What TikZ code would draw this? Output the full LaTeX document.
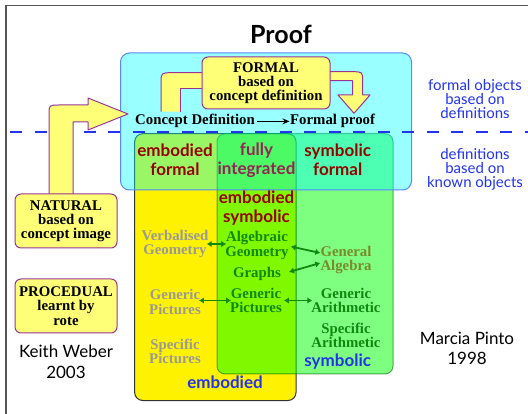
\documentclass[tikz,border=0pt]{standalone}
\usepackage{fontspec}
\setmainfont{Liberation Serif}
\setsansfont{Lato}
\usetikzlibrary{arrows.meta}

\definecolor{bandfill}{HTML}{FFFF77}
\definecolor{bandline}{HTML}{993399}
\definecolor{skyfill}{HTML}{00FFFF}
\definecolor{skyline}{HTML}{5588FF}
\definecolor{labelblue}{HTML}{2233EE}
\definecolor{darkred}{HTML}{990000}
\definecolor{plum}{HTML}{992255}
\definecolor{textgray}{HTML}{999999}
\definecolor{deepgreen}{HTML}{118811}
\definecolor{olivetext}{HTML}{7A8A2A}
\definecolor{framegray}{HTML}{555555}

\tikzset{
  serifbox/.style={draw=bandline, fill=bandfill, line width=1pt, rounded corners=6pt,
    font=\bfseries\fontsize{14.8}{14.2}\selectfont, align=center, inner sep=0pt},
  seriftext/.style={font=\bfseries\fontsize{14.8}{14.2}\selectfont, align=center, inner sep=0pt},
  sanslabel/.style={font=\sffamily\bfseries\fontsize{17}{18.5}\selectfont, align=center, inner sep=0pt},
  bluenote/.style={font=\sffamily\fontsize{15}{14}\selectfont, align=center, inner sep=0pt, text=labelblue},
  author/.style={font=\sffamily\fontsize{17}{20.5}\selectfont, align=center, inner sep=0pt},
  band/.style={fill=bandfill},
  bandedge/.style={draw=bandline, line width=1pt, line join=round},
  garrow/.style={{Latex[length=5pt,width=6.5pt]}-{Latex[length=5pt,width=6.5pt]}, draw=deepgreen, line width=1.8pt}
}

\begin{document}
\begin{tikzpicture}[x=1pt, y=-1pt]
\useasboundingbox (0,0) rectangle (528,414);

% slide frame
\draw[framegray, line width=1.2pt] (6,414) -- (6,5.4) -- (528,5.4);

% embodied and symbolic worlds
\draw[fill=yellow, draw=black!80, line width=1pt, rounded corners=8pt]
  (134.7,133.7) rectangle (296,400.5);
\draw[fill=green, fill opacity=0.5, draw=green!45!black, draw opacity=0.6, line width=1pt, rounded corners=8pt]
  (217,133.7) rectangle (393,374);
% formal world
\draw[fill=skyfill, fill opacity=0.4, draw=skyline, line width=1pt, rounded corners=9pt]
  (120.5,53) rectangle (411.5,190);

% boundary between formal and known objects
\draw[labelblue, line width=2.4pt, dash pattern=on 12pt off 12.5pt] (10,132) -- (528,132);

% broad arrow from the natural route into the concept definition
\path[band] (49,194) -- (49,115) .. controls (49,105) .. (59,105) -- (88,105) -- (88,98)
  -- (128,114) -- (88,130) -- (88,122) -- (73,122) -- (73,194) -- cycle;
\draw[bandedge] (49,194) -- (49,115) .. controls (49,105) .. (59,105) -- (88,105) -- (88,98)
  -- (128,114) -- (88,130) -- (88,122) -- (73,122) -- (73,194);

% broad arrow from the concept definition up into the formal route
\path[band] (161,111.7) -- (161,84) .. controls (161,72.7) .. (172,72.7) -- (205,72.7)
  -- (205,89) -- (180,89) -- (180,111.7) -- cycle;
\draw[bandedge] (161,111.7) -- (161,84) .. controls (161,72.7) .. (172,72.7) -- (205,72.7);
\draw[bandedge] (205,89) -- (180,89) -- (180,111.7);

% broad arrow from the formal route down to the formal proof
\path[band] (326,71.7) -- (352,71.7) .. controls (362.7,71.7) .. (362.7,82) -- (362.7,95)
  -- (370,95) -- (354,113.3) -- (338,95) -- (352.5,95) -- (352.5,80.7) -- (326,80.7) -- cycle;
\draw[bandedge] (326,71.7) -- (352,71.7) .. controls (362.7,71.7) .. (362.7,82) -- (362.7,95)
  -- (370,95) -- (354,113.3) -- (338,95) -- (352.5,95) -- (352.5,80.7) -- (326,80.7);

% the three routes to proof
\node[serifbox, minimum width=128pt, minimum height=52pt] (formal) at (266,83)
  {FORMAL\\based on\\concept definition};
\node[serifbox, minimum width=102pt, minimum height=54pt] (natural) at (66,221)
  {NATURAL\\based on\\concept image};
\node[serifbox, minimum width=102pt, minimum height=54pt] (procedural) at (66,306)
  {PROCEDUAL\\learnt by\\rote};

% title
\node[font=\sffamily\bfseries\fontsize{25}{28}\selectfont, inner sep=0pt] (title) at (281,34) {Proof};

% concept definition leading to formal proof
\node[seriftext, anchor=base west] (cdef) at (135,125) {Concept Definition};
\node[seriftext, anchor=base west] (fproof) at (290,125) {Formal proof};
\draw[-{Stealth[length=7pt,width=6pt]}, line width=1pt] ([xshift=2pt]cdef.east) -- ([xshift=-0.5pt]fproof.west);

% notes on the right
\node[bluenote] (fobj) at (475,99.5) {formal objects\\based on\\definitions};
\node[bluenote] (kobj) at (475,169) {definitions\\based on\\known objects};

% world labels
\node[sanslabel, text=darkred] (ef) at (175,160) {embodied\\formal};
\node[sanslabel, text=plum] (fi) at (256.5,160) {fully\\integrated};
\node[sanslabel, text=darkred] (sf) at (337.7,160) {symbolic\\formal};
\node[sanslabel, text=darkred] (es) at (256.5,208) {embodied\\symbolic};
\node[sanslabel, text=labelblue] (sym) at (337.7,361.8) {symbolic};
\node[sanslabel, text=labelblue] (emb) at (225,382.7) {embodied};

% contents of the worlds
\node[seriftext, text=textgray] (vg) at (175,244) {Verbalised\\Geometry};
\node[seriftext, text=deepgreen] (ag) at (257,245.5) {Algebraic\\Geometry};
\node[seriftext, text=deepgreen] (gr) at (257,274) {Graphs};
\node[seriftext, text=olivetext] (ga) at (346,260) {General\\Algebra};
\node[seriftext, text=textgray] (gpl) at (175,302) {Generic\\Pictures};
\node[seriftext, text=deepgreen] (gpm) at (256,300.5) {Generic\\Pictures};
\node[seriftext, text=deepgreen] (gar) at (346,300.5) {Generic\\Arithmetic};
\node[seriftext, text=deepgreen] (sar) at (346,335) {Specific\\Arithmetic};
\node[seriftext, text=textgray] (spi) at (175,351) {Specific\\Pictures};

% links between the worlds
\draw[garrow, shorten <=-2pt, shorten >=-1pt] (vg.east) -- (vg.east -| ag.west);
\draw[garrow] ([xshift=2pt,yshift=-1pt]ag.east) -- ([yshift=7pt]ga.west);
\draw[garrow] ([xshift=8pt,yshift=2pt]gr.east) -- ([yshift=-3pt]ga.west);
\draw[garrow, shorten <=-2pt, shorten >=-1pt] (gpl.east |- gpm.east) -- (gpm.west);
\draw[garrow] ([xshift=2pt]gpm.east) -- ([xshift=1pt]gar.west);

% authors
\node[author] (weber) at (66,362) {Keith Weber\\2003};
\node[author] (pinto) at (467,348.5) {Marcia Pinto\\1998};
\end{tikzpicture}
\end{document}
